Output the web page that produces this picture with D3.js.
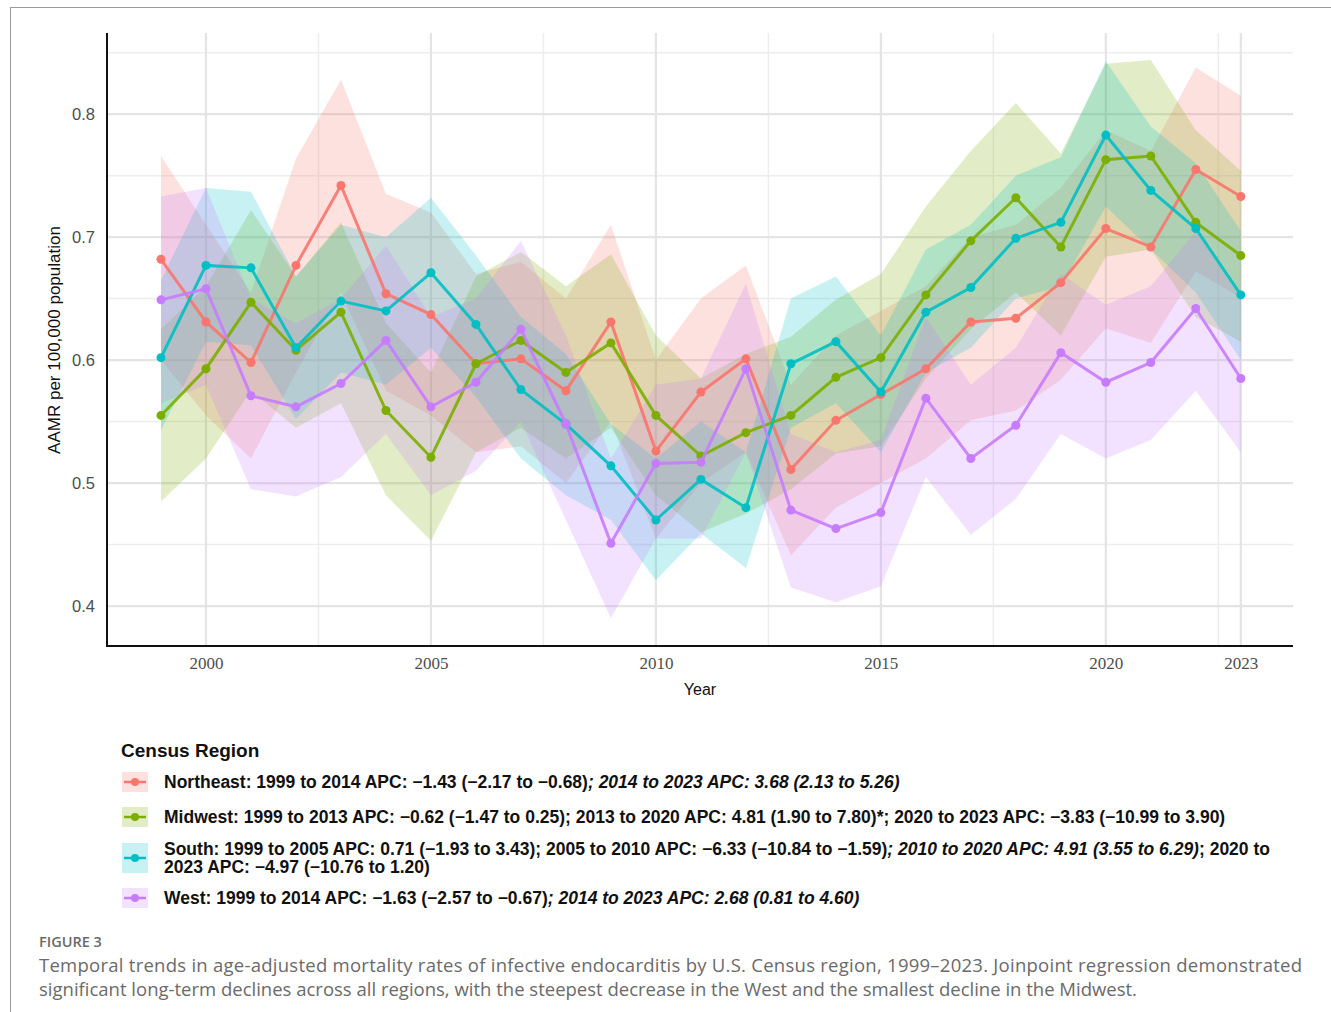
<!DOCTYPE html>
<html>
<head>
<meta charset="utf-8">
<script src="https://cdn.jsdelivr.net/npm/d3@7"></script>
<style>
  body { margin: 0; background: #fff; }
</style>
</head>
<body>
<div id="myVis"></div>
<script>
// data
var years = [1999, 2000, 2001, 2002, 2003, 2004, 2005, 2006, 2007, 2008, 2009, 2010, 2011,
  2012, 2013, 2014, 2015, 2016, 2017, 2018, 2019, 2020, 2021, 2022, 2023];

var neRate  = [0.682,0.631,0.598,0.677,0.742,0.654,0.637,0.597,0.601,0.575,0.631,0.526,0.574,0.601,0.511,0.551,0.572,0.593,0.631,0.634,0.663,0.707,0.692,0.755,0.733];
var neLower = [0.600,0.555,0.520,0.590,0.655,0.575,0.555,0.525,0.530,0.500,0.550,0.455,0.500,0.525,0.441,0.480,0.500,0.520,0.551,0.559,0.584,0.626,0.614,0.672,0.651];
var neUpper = [0.766,0.710,0.655,0.764,0.828,0.735,0.720,0.670,0.680,0.650,0.710,0.600,0.650,0.677,0.580,0.620,0.640,0.660,0.700,0.710,0.740,0.787,0.770,0.838,0.815];

var mwRate  = [0.555,0.593,0.647,0.608,0.639,0.559,0.521,0.597,0.616,0.590,0.614,0.555,0.522,0.541,0.555,0.586,0.602,0.653,0.697,0.732,0.692,0.763,0.766,0.712,0.685];
var mwLower = [0.485,0.520,0.575,0.545,0.565,0.490,0.453,0.525,0.545,0.520,0.545,0.490,0.460,0.475,0.495,0.524,0.530,0.585,0.625,0.655,0.620,0.684,0.690,0.635,0.615];
var mwUpper = [0.625,0.660,0.722,0.668,0.712,0.630,0.590,0.668,0.688,0.660,0.686,0.620,0.585,0.605,0.619,0.649,0.670,0.725,0.770,0.809,0.768,0.841,0.844,0.787,0.754];

var soRate  = [0.602,0.677,0.675,0.610,0.648,0.640,0.671,0.629,0.576,0.548,0.514,0.470,0.503,0.480,0.597,0.615,0.574,0.639,0.659,0.699,0.712,0.783,0.738,0.707,0.653];
var soLower = [0.543,0.615,0.612,0.552,0.590,0.580,0.610,0.570,0.520,0.490,0.470,0.421,0.459,0.431,0.545,0.565,0.525,0.590,0.610,0.650,0.660,0.725,0.690,0.655,0.600];
var soUpper = [0.665,0.740,0.737,0.668,0.710,0.700,0.732,0.685,0.635,0.605,0.548,0.520,0.550,0.525,0.650,0.668,0.620,0.690,0.710,0.750,0.765,0.843,0.790,0.760,0.705];

var weRate  = [0.649,0.658,0.571,0.562,0.581,0.616,0.562,0.582,0.625,0.548,0.451,0.516,0.517,0.593,0.478,0.463,0.476,0.569,0.520,0.547,0.606,0.582,0.598,0.642,0.585];
var weLower = [0.565,0.580,0.495,0.489,0.505,0.540,0.490,0.510,0.550,0.470,0.390,0.455,0.455,0.525,0.415,0.403,0.416,0.505,0.458,0.487,0.540,0.520,0.535,0.575,0.525];
var weUpper = [0.733,0.740,0.650,0.630,0.650,0.693,0.635,0.650,0.697,0.620,0.520,0.580,0.585,0.662,0.540,0.525,0.535,0.635,0.580,0.610,0.670,0.645,0.660,0.705,0.650];

var regions = ["Northeast", "Midwest", "South", "West"];
var colors = ["#F8766D", "#7CAE00", "#00BFC4", "#C77CFF"];

var yTicks = [0.4, 0.5, 0.6, 0.7, 0.8];
var yMinor = [0.45, 0.55, 0.65, 0.75, 0.85];
var xTicks = [2000, 2005, 2010, 2015, 2020, 2023];
var xMinor = [2002.5, 2007.5, 2012.5, 2017.5, 2022.5];

// legend text: [text, italic?] pieces per line
var legendLines = [
  [[["Northeast: 1999 to 2014 APC: \u22121.43 (\u22122.17 to \u22120.68)", false], ["; 2014 to 2023 APC: 3.68 (2.13 to 5.26)", true]]],
  [[["Midwest: 1999 to 2013 APC: \u22120.62 (\u22121.47 to 0.25); 2013 to 2020 APC: 4.81 (1.90 to 7.80)*; 2020 to 2023 APC: \u22123.83 (\u221210.99 to 3.90)", false]]],
  [[["South: 1999 to 2005 APC: 0.71 (\u22121.93 to 3.43); 2005 to 2010 APC: \u22126.33 (\u221210.84 to \u22121.59)", false], ["; 2010 to 2020 APC: 4.91 (3.55 to 6.29)", true], ["; 2020 to", false]],
   [["2023 APC: \u22124.97 (\u221210.76 to 1.20)", false]]],
  [[["West: 1999 to 2014 APC: \u22121.63 (\u22122.57 to \u22120.67)", false], ["; 2014 to 2023 APC: 2.68 (0.81 to 4.60)", true]]]
];

var series = [
  { rate: neRate, lower: neLower, upper: neUpper },
  { rate: mwRate, lower: mwLower, upper: mwUpper },
  { rate: soRate, lower: soLower, upper: soUpper },
  { rate: weRate, lower: weLower, upper: weUpper }
];

var width = 1331;
var height = 1012;

var svg = d3.select("#myVis")
  .append("svg")
  .attr("width", width)
  .attr("height", height);

// frame lines (top + left)
svg.append("line").attr("x1", 10).attr("x2", width).attr("y1", 7.5).attr("y2", 7.5)
  .attr("stroke", "#9a9a9a").attr("stroke-width", 1);
svg.append("line").attr("x1", 10.5).attr("x2", 10.5).attr("y1", 7).attr("y2", height)
  .attr("stroke", "#9a9a9a").attr("stroke-width", 1);

var x = d3.scaleLinear().domain([1997.8, 2024.16]).range([107, 1293]);
var y = d3.scaleLinear().domain([0.3675, 0.866]).range([646, 33]);

var grid = svg.append("g");
grid.selectAll(".ymin").data(yMinor).join("line")
  .attr("x1", 107).attr("x2", 1293)
  .attr("y1", d => y(d)).attr("y2", d => y(d))
  .attr("stroke", "#ededed").attr("stroke-width", 1.5);
grid.selectAll(".xmin").data(xMinor).join("line")
  .attr("x1", d => x(d)).attr("x2", d => x(d))
  .attr("y1", 33).attr("y2", 646)
  .attr("stroke", "#ededed").attr("stroke-width", 1.5);
grid.selectAll(".ymaj").data(yTicks).join("line")
  .attr("x1", 107).attr("x2", 1293)
  .attr("y1", d => y(d)).attr("y2", d => y(d))
  .attr("stroke", "#e4e4e4").attr("stroke-width", 2.2);
grid.selectAll(".xmaj").data(xTicks).join("line")
  .attr("x1", d => x(d)).attr("x2", d => x(d))
  .attr("y1", 33).attr("y2", 646)
  .attr("stroke", "#e4e4e4").attr("stroke-width", 2.2);

// ribbons
var area = d3.area()
  .x((d, i) => x(years[i]))
  .y0((d, i) => y(d.lo))
  .y1((d, i) => y(d.hi));

series.forEach(function (s, k) {
  var pts = years.map((yr, i) => ({ lo: s.lower[i], hi: s.upper[i] }));
  svg.append("path")
    .attr("d", area(pts))
    .attr("fill", colors[k])
    .attr("fill-opacity", 0.22);
});

// lines and points
var line = d3.line()
  .x((d, i) => x(years[i]))
  .y(d => y(d));

series.forEach(function (s, k) {
  svg.append("path")
    .attr("d", line(s.rate))
    .attr("fill", "none")
    .attr("stroke", colors[k])
    .attr("stroke-width", 3)
    .attr("stroke-opacity", 0.9);
  svg.append("g").selectAll("circle").data(s.rate).join("circle")
    .attr("cx", (d, i) => x(years[i]))
    .attr("cy", d => y(d))
    .attr("r", 4.5)
    .attr("fill", colors[k]);
});

// axes
var yAxis = svg.append("g")
  .attr("transform", "translate(107,0)")
  .call(d3.axisLeft(y).tickValues(yTicks).tickFormat(d3.format(".1f")).tickSize(0).tickPadding(12));
yAxis.select(".domain").remove();
yAxis.selectAll("text")
  .attr("font-family", "Liberation Sans, Arial, sans-serif")
  .attr("font-size", 16.5)
  .attr("fill", "#4d4d4d");

var xAxis = svg.append("g")
  .attr("transform", "translate(0,646)")
  .call(d3.axisBottom(x).tickValues(xTicks).tickFormat(d3.format("d")).tickSize(0).tickPadding(11));
xAxis.select(".domain").remove();
xAxis.selectAll("text")
  .attr("font-family", "Liberation Serif, Times New Roman, serif")
  .attr("font-size", 17)
  .attr("fill", "#4d4d4d");

svg.append("line").attr("x1", 107).attr("x2", 107).attr("y1", 33).attr("y2", 647)
  .attr("stroke", "#111").attr("stroke-width", 2);
svg.append("line").attr("x1", 106).attr("x2", 1293).attr("y1", 646).attr("y2", 646)
  .attr("stroke", "#111").attr("stroke-width", 2);

svg.append("text")
  .attr("x", 700).attr("y", 695)
  .attr("text-anchor", "middle")
  .attr("font-family", "Liberation Sans, Arial, sans-serif")
  .attr("font-size", 16)
  .attr("fill", "#111")
  .text("Year");

svg.append("text")
  .attr("transform", "translate(60,340) rotate(-90)")
  .attr("text-anchor", "middle")
  .attr("font-family", "Liberation Sans, Arial, sans-serif")
  .attr("font-size", 17)
  .attr("fill", "#111")
  .text("AAMR per 100,000 population");

// legend
var legend = svg.append("g");
legend.append("text")
  .attr("x", 121).attr("y", 757)
  .attr("font-family", "Liberation Sans, Arial, sans-serif")
  .attr("font-size", 19).attr("font-weight", "bold")
  .attr("fill", "#111")
  .text("Census Region");

var rowY = [782, 817, 858, 898];
legendLines.forEach(function (rows, k) {
  var cy = rowY[k];
  var kh = rows.length > 1 ? 30 : 20;
  legend.append("rect")
    .attr("x", 122).attr("y", cy - kh / 2)
    .attr("width", 26).attr("height", kh)
    .attr("fill", colors[k]).attr("fill-opacity", 0.22);
  legend.append("line")
    .attr("x1", 124).attr("x2", 146).attr("y1", cy).attr("y2", cy)
    .attr("stroke", colors[k]).attr("stroke-width", 2.5);
  legend.append("circle")
    .attr("cx", 135).attr("cy", cy).attr("r", 4)
    .attr("fill", colors[k]);
  rows.forEach(function (pieces, r) {
    var ty = cy + 6 + (r - (rows.length - 1) / 2) * 18;
    var t = legend.append("text")
      .attr("x", 164).attr("y", ty)
      .attr("font-family", "Liberation Sans, Arial, sans-serif")
      .attr("font-size", 17.5).attr("font-weight", "bold")
      .attr("fill", "#111");
    pieces.forEach(function (p) {
      t.append("tspan")
        .attr("font-style", p[1] ? "italic" : "normal")
        .text(p[0]);
    });
  });
});

// caption
svg.append("text")
  .attr("x", 39).attr("y", 947)
  .attr("font-family", "Open Sans, Lato, sans-serif")
  .attr("font-size", 14.5).attr("font-weight", 600)
  .attr("fill", "#6a6a6a")
  .text("FIGURE 3");
svg.append("text")
  .attr("x", 39).attr("y", 972)
  .attr("textLength", 1263).attr("lengthAdjust", "spacing")
  .attr("font-family", "Open Sans, Lato, sans-serif")
  .attr("font-size", 18.5)
  .attr("fill", "#6a6a6a")
  .text("Temporal trends in age-adjusted mortality rates of infective endocarditis by U.S. Census region, 1999\u20132023. Joinpoint regression demonstrated");
svg.append("text")
  .attr("x", 39).attr("y", 996)
  .attr("font-family", "Open Sans, Lato, sans-serif")
  .attr("font-size", 18.5)
  .attr("fill", "#6a6a6a")
  .text("significant long-term declines across all regions, with the steepest decrease in the West and the smallest decline in the Midwest.");
</script>
</body>
</html>
